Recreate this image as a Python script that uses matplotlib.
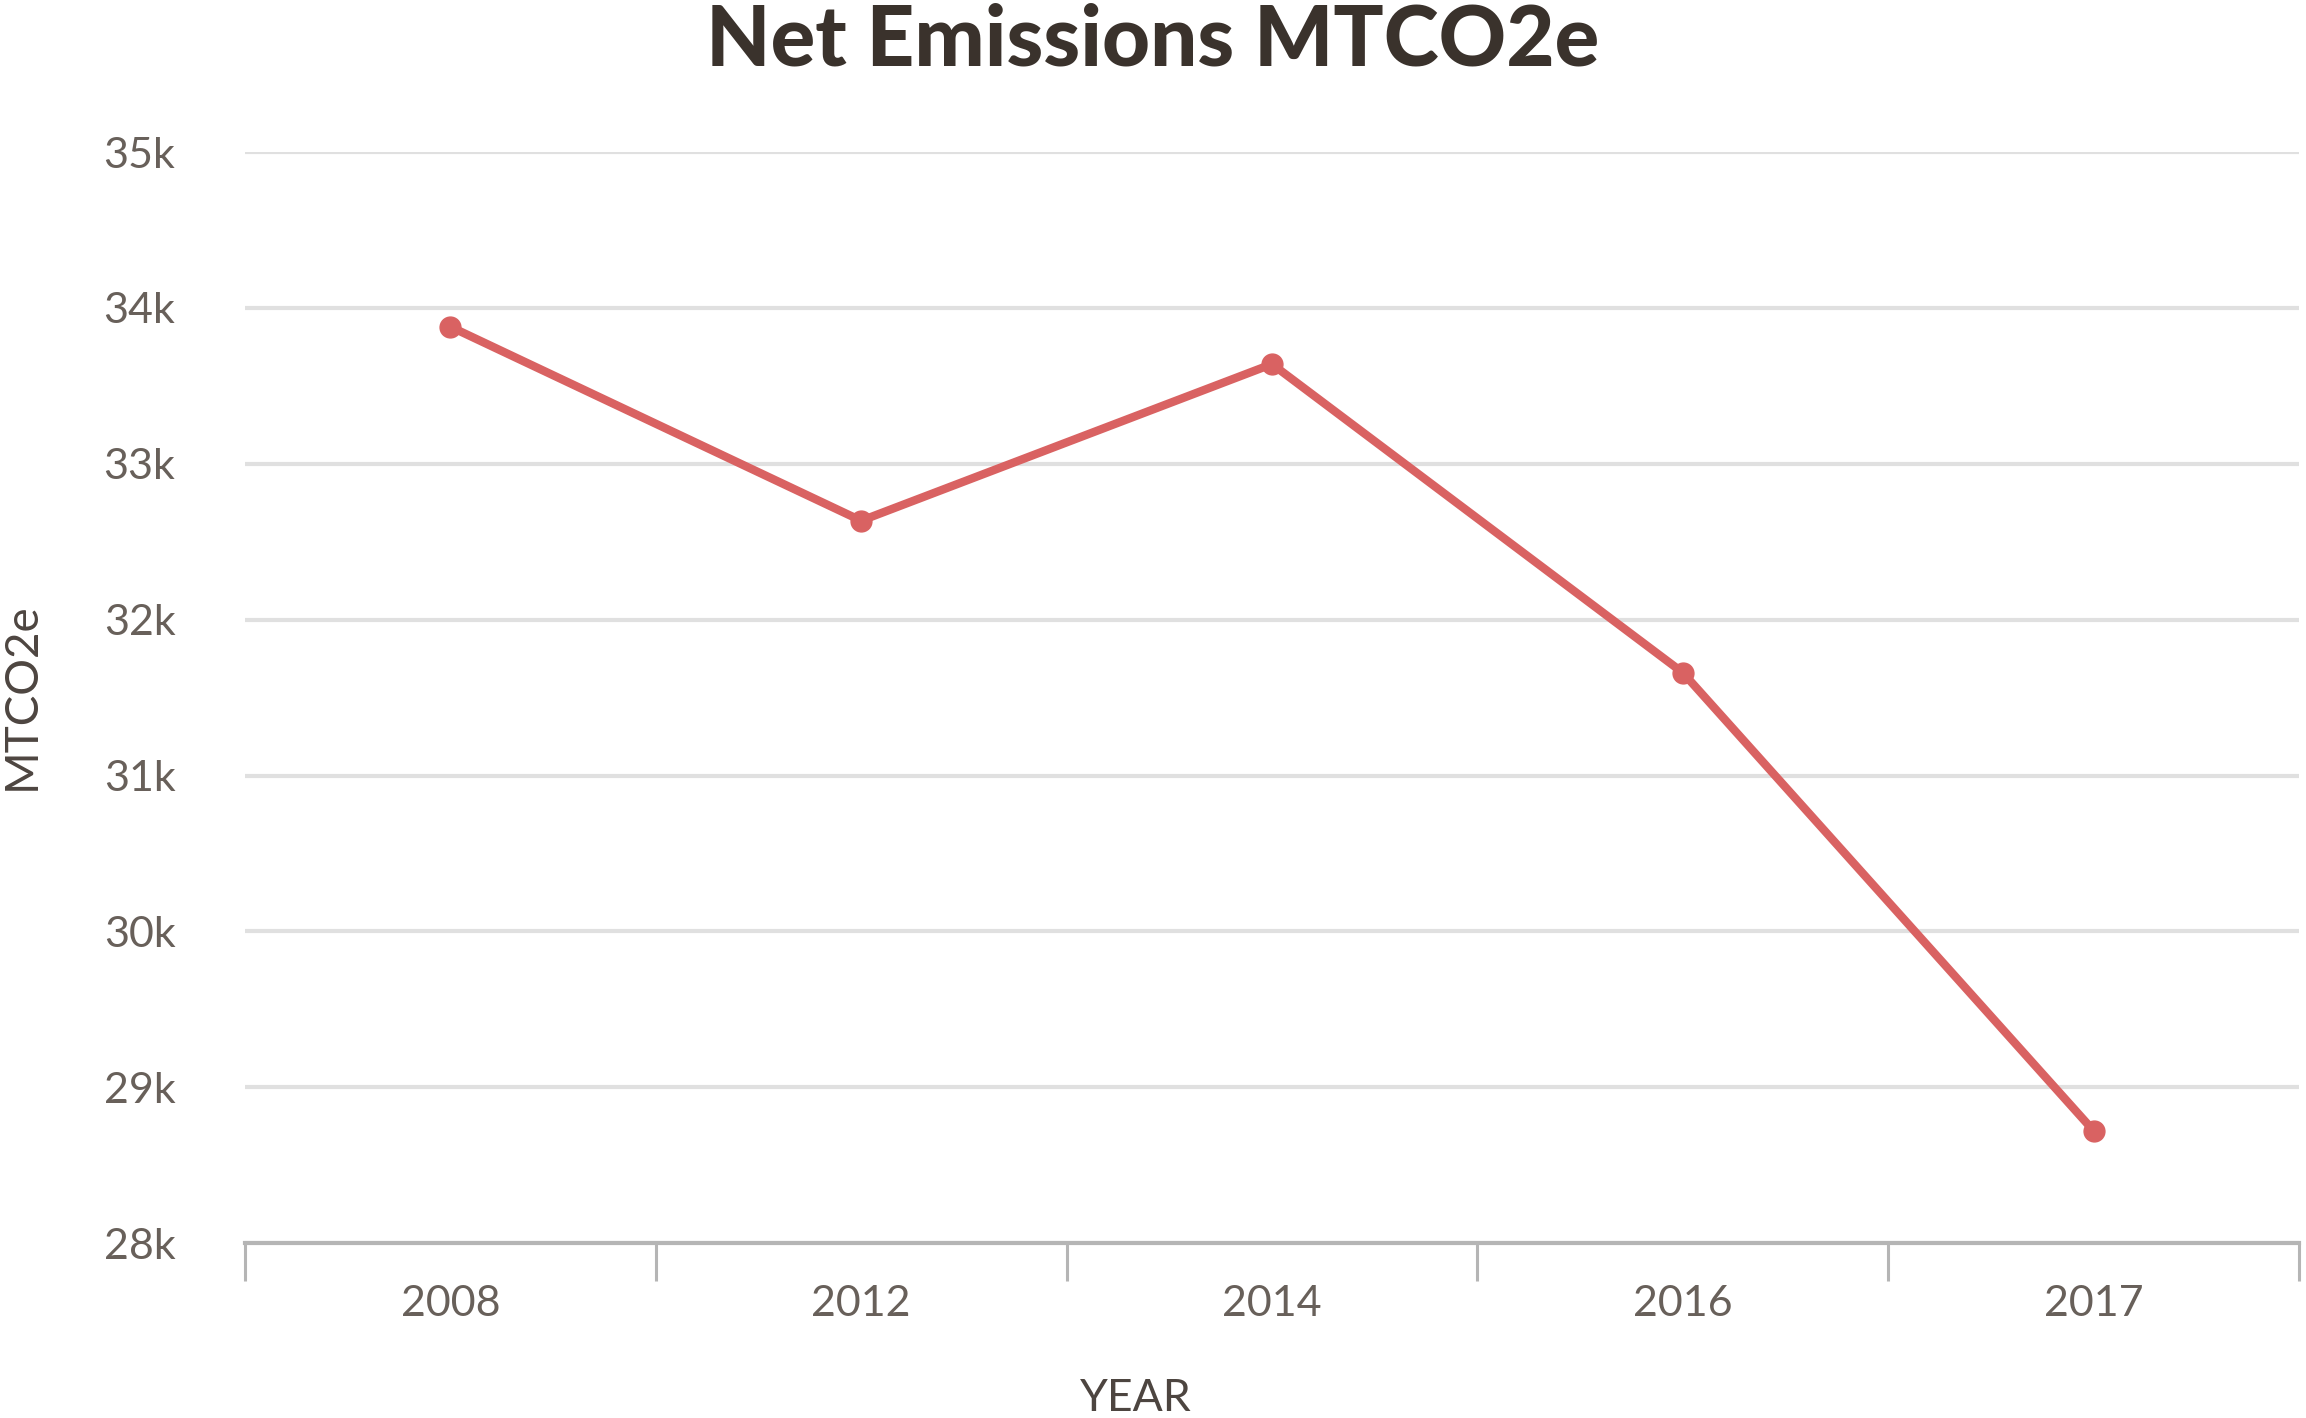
import matplotlib
matplotlib.use("Agg")
import matplotlib.pyplot as plt
from matplotlib.ticker import FuncFormatter, FixedLocator

years = ["2008", "2012", "2014", "2016", "2017"]
emissions = [33880, 32635, 33640, 31660, 28720]
y_ticks = [28000, 29000, 30000, 31000, 32000, 33000, 34000, 35000]

plt.rcParams['font.family'] = ['Lato', 'DejaVu Sans']

fig = plt.figure(figsize=(23.06, 14.18), dpi=100)
ax = fig.add_axes([0.1062, 0.1234, 0.8908, 0.7693])

x = list(range(len(years)))
ax.plot(x, emissions, color="#d96262", lw=6, marker="o", markersize=15,
        solid_joinstyle="round", zorder=3, clip_on=False)

ax.set_xlim(-0.5, len(years) - 0.5)
ax.set_ylim(28000, 35000)
ax.set_yticks(y_ticks)
ax.yaxis.set_major_formatter(FuncFormatter(lambda v, p: f"{int(round(v/1000))}k"))
ax.grid(axis="y", color="#e0e0e0", lw=3, zorder=0)
ax.set_axisbelow(True)

ax.set_xticks(x)
ax.set_xticklabels(years)
ax.xaxis.set_minor_locator(FixedLocator([i - 0.5 for i in range(len(years) + 1)]))
ax.tick_params(axis="x", which="major", length=0, pad=30, labelsize=31, labelcolor="#68605a")
ax.tick_params(axis="x", which="minor", length=27, width=2.2, color="#b5b5b5")
ax.tick_params(axis="y", length=0, pad=50, labelsize=31, labelcolor="#68605a")

for s in ["top", "right", "left"]:
    ax.spines[s].set_visible(False)
ax.spines["bottom"].set_color("#b5b5b5")
ax.spines["bottom"].set_linewidth(3)
ax.spines["bottom"].set_zorder(1)

fig.text(0.5, 0.971, "Net Emissions MTCO2e", ha="center", va="center",
         fontsize=60, fontweight="black", color="#3a322c")
fig.text(0.4925, 0.0134, "YEAR", ha="center", va="center", fontsize=32, color="#4d4540")
fig.text(0.0095, 0.509, "MTCO2e", ha="center", va="center", rotation=90,
         fontsize=33, color="#4d4540")

fig.savefig("out.png", dpi=100, facecolor="white")
